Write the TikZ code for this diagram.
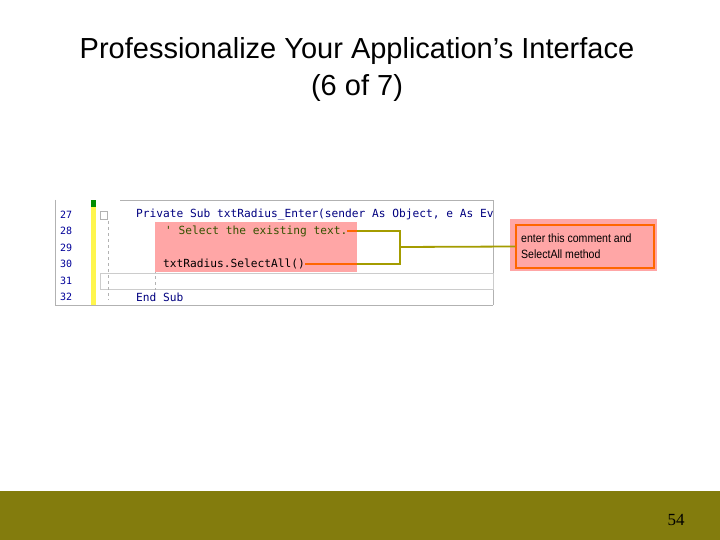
\documentclass[tikz,border=0pt]{standalone}
\usepackage{fontspec}
\setmainfont{Liberation Sans}
\newfontfamily\codefont{DejaVu Sans Mono}
\newfontfamily\numfont{Liberation Serif}
\begin{document}
\begin{tikzpicture}[x=1pt,y=-1pt,
  code/.style={anchor=west,inner sep=0pt,font=\codefont\fontsize{11.2}{12}\selectfont},
  lnum/.style={anchor=west,inner sep=0pt,font=\codefont\fontsize{10}{12}\selectfont,text=blue!60!black},
  conn/.style={draw=olive!80!yellow,line width=1.8pt},
  stub/.style={draw=orange!80!red,line width=1.8pt}]
\useasboundingbox (0,0) rectangle (720,540);
\fill[white] (0,0) rectangle (720,540);
\node (t1) at (357,51) {\fontsize{29}{34}\selectfont Professionalize Your Application’s Interface};
\node (t2) at (357,88) {\fontsize{29}{34}\selectfont (6 of 7)};
% code panel
\draw[gray!60] (55,200) -- (55,305) -- (493,305);
\draw[gray!60] (120,200) -- (493,200) -- (493,305);
\fill[yellow!70!white] (91,200) rectangle (96,305);
\fill[green!55!black] (91,200) rectangle (96,207);
\draw[gray!40] (100,273) rectangle (493,289);
\draw[gray!60] (100,211) rectangle (107,219);
\draw[gray!60,dashed] (108,221) -- (108,300);
\draw[gray!60,dashed] (155,222) -- (155,290);
\fill[red!35] (155,222) rectangle (357,272);
\foreach \n/\y in {27/215,28/231,29/248,30/264,31/281,32/297}
  \node[lnum] (n\n) at (60,\y) {\n};
\begin{scope}
\clip (56,200) rectangle (493,305);
\node[code,text=blue!50!black] (l27) at (136,215) {Private Sub txtRadius\_Enter(sender As Object, e As Ev};
\end{scope}
\node[code,text=green!40!black!80!red] (l28) at (165,231) {' Select the existing text.};
\node[code] (l30) at (163,264) {txtRadius.SelectAll()};
\node[code,text=blue!50!black] (l32) at (136,297) {End Sub};
% callout
\fill[red!35] (510,219) rectangle (657,271);
\node[draw=orange!80!red,line width=1.5pt,fill=red!35,minimum width=138pt,minimum height=43pt] (call) at (585,246.5) {};
\node[anchor=west,align=left,inner sep=0pt,font=\fontsize{12}{16}\selectfont] (ct) at (521,246.5)
  {\scalebox{0.88}[1]{enter this comment and}\\\scalebox{0.88}[1]{SelectAll method}};
\coordinate (a1) at (347,231);
\coordinate (a2) at (357,231);
\coordinate (b1) at (305,264);
\coordinate (b2) at (357,264);
\coordinate (v) at (400,247);
\draw[stub] (a1) -- (a2);
\draw[stub] (b1) -- (b2);
\draw[conn] (a2) -- (400,231) -- (400,264) -- (b2);
\draw[conn] (v) -- (call.west);
% footer
\fill[olive!90!black] (0,491) rectangle (720,540);
\node[font=\numfont\fontsize{17}{20}\selectfont] (pg) at (676,520) {54};
\end{tikzpicture}
\end{document}
